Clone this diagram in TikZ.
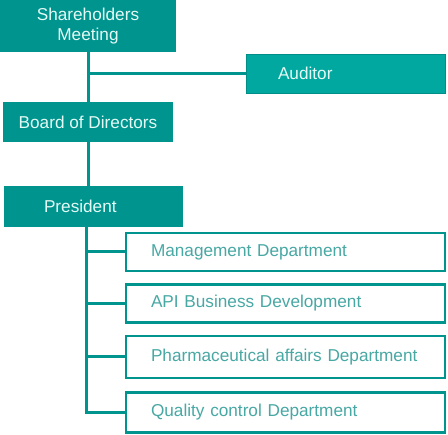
\documentclass[tikz,border=0pt]{standalone}
\usepackage{fontspec}
\setmainfont{Liberation Sans}
\usetikzlibrary{positioning}
\definecolor{orgteal}{RGB}{0,148,143}
\definecolor{audteal}{RGB}{0,168,160}
\definecolor{depttext}{RGB}{72,168,164}
\definecolor{boxtext}{RGB}{228,250,245}

\begin{document}
\begin{tikzpicture}[
    x=1pt, y=1pt,
    every node/.style={font=\fontsize{17.2}{20}\selectfont},
    headbox/.style={rectangle, fill=orgteal, text=boxtext, inner sep=0pt, align=center},
    deptbox/.style={rectangle, draw=orgteal, line width=2.5pt, fill=white, text=depttext,
                    minimum width=319pt, inner xsep=25pt, text width=269pt, align=left},
    conn/.style={draw=orgteal, line width=3pt}
]
\useasboundingbox (0,0) rectangle (448,-435);

\node[headbox, minimum width=176pt, minimum height=52pt] (share) at (88,-26) {Shareholders\\Meeting};
\node[headbox, fill=audteal, draw=audteal!85!black, line width=0.6pt, minimum width=199pt, minimum height=39pt,
      inner xsep=32pt, text width=135pt, align=left] (aud) at (345.5,-73.5) {Auditor};
\node[headbox, minimum width=170pt, minimum height=40pt] (board) at (88,-122) {Board of Directors};
\node[headbox, minimum width=179pt, minimum height=41pt, inner xsep=40pt, text width=99pt, align=left] (pres) at (93.5,-206.5) {President};

% departments under the president
\node[deptbox, minimum height=38pt] (mgmt) at (285.5,-252) {Management Department};
\node[deptbox, minimum height=38pt, below=11pt of mgmt] (api) {API Business Development};
\node[deptbox, minimum height=42pt, below=11pt of api] (pharm) {Pharmaceutical affairs Department};
\node[deptbox, minimum height=40pt, below=12pt of pharm] (qc) {Quality control Department};

\draw[conn] (share) -- (board);
\draw[conn] (share.south |- aud.west) -- (aud.west);
\draw[conn] (board.south) -- (board.south |- pres.north);

\coordinate (spine) at ([xshift=-7.5pt]pres.south);
\draw[conn] (spine) |- (qc.west);
\foreach \d in {mgmt,api,pharm}
    \draw[conn] (spine |- \d.west) -- (\d.west);
\end{tikzpicture}
\end{document}
